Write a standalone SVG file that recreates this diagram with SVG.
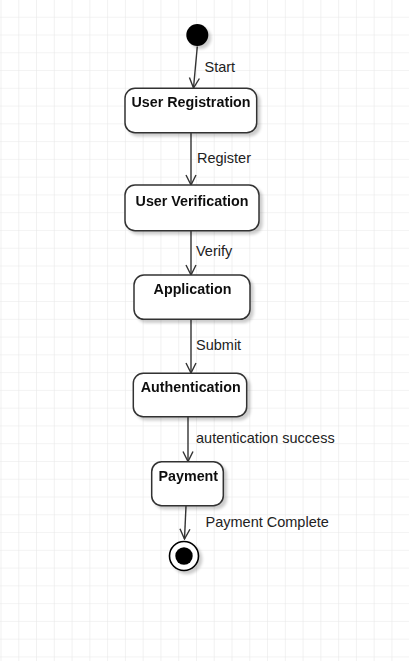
<svg xmlns="http://www.w3.org/2000/svg" width="409" height="661" viewBox="0 0 409 661">
  <defs>
    <pattern id="grid" patternUnits="userSpaceOnUse" x="0.5" y="-1.05" width="17.77" height="17.77">
      <path d="M0 0 H17.77 M0 0 V17.77" fill="none" stroke="#e8e8e8" stroke-width="1.2"/>
    </pattern>
    <filter id="shadow" x="-10%" y="-10%" width="130%" height="140%">
      <feGaussianBlur in="SourceAlpha" stdDeviation="1.5"/>
      <feOffset dx="3" dy="3" result="b"/>
      <feComponentTransfer><feFuncA type="linear" slope="0.2"/></feComponentTransfer>
      <feMerge><feMergeNode/><feMergeNode in="SourceGraphic"/></feMerge>
    </filter>
    <marker id="arrow" viewBox="0 0 12 12" refX="11" refY="6" markerWidth="12" markerHeight="12" markerUnits="userSpaceOnUse" orient="auto">
      <path d="M1 1 L11 6 L1 11" fill="none" stroke="#333" stroke-width="1.4"/>
    </marker>
  </defs>
  <style>
    .box { fill: #ffffff; stroke: #333333; stroke-width: 1.5; }
    .title { font-family: "Liberation Sans", Arial, sans-serif; font-weight: bold; font-size: 14.3px; fill: #111; text-anchor: middle; }
    .lbl { font-family: "Liberation Sans", Arial, sans-serif; font-size: 14.5px; fill: #222; }
    .edge { fill: none; stroke: #333333; stroke-width: 1.4; marker-end: url(#arrow); }
  </style>
  <rect width="409" height="661" fill="#ffffff"/>
  <rect width="409" height="661" fill="url(#grid)"/>

  <g id="connectors">
    <path class="edge" d="M197.3 46.5 L193.5 88"/>
    <path class="edge" d="M191 133 L191 185"/>
    <path class="edge" d="M191 231 L191 275"/>
    <path class="edge" d="M191 319.5 L191 373"/>
    <path class="edge" d="M188 417 L188 461.5"/>
    <path class="edge" d="M186 506 L184.5 539"/>
    <text class="lbl" x="204.5" y="72">Start</text>
    <text class="lbl" x="197" y="163">Register</text>
    <text class="lbl" x="196" y="256">Verify</text>
    <text class="lbl" x="196" y="350">Submit</text>
    <text class="lbl" x="196" y="443">autentication success</text>
    <text class="lbl" x="205.5" y="526.5">Payment Complete</text>
  </g>

  <g id="start" filter="url(#shadow)">
    <circle cx="197.3" cy="35" r="11" fill="#000000"/>
  </g>

  <g id="user-registration" filter="url(#shadow)">
    <rect class="box" x="125" y="88.3" width="131.7" height="44.4" rx="10" ry="10"/>
    <text class="title" x="191" y="107.3">User Registration</text>
  </g>

  <g id="user-verification" filter="url(#shadow)">
    <rect class="box" x="125" y="185" width="134" height="45.7" rx="10" ry="10"/>
    <text class="title" x="192" y="205.7">User Verification</text>
  </g>

  <g id="application" filter="url(#shadow)">
    <rect class="box" x="134" y="275" width="116" height="44.3" rx="10" ry="10"/>
    <text class="title" x="192.5" y="294.3">Application</text>
  </g>

  <g id="authentication" filter="url(#shadow)">
    <rect class="box" x="133.3" y="373.3" width="113.4" height="43.4" rx="10" ry="10"/>
    <text class="title" x="190.7" y="391.7">Authentication</text>
  </g>

  <g id="payment" filter="url(#shadow)">
    <rect class="box" x="151.7" y="461.7" width="71.6" height="44" rx="10" ry="10"/>
    <text class="title" x="188.3" y="480.7">Payment</text>
  </g>

  <g id="end" filter="url(#shadow)">
    <circle cx="184" cy="556" r="14.5" fill="#ffffff" stroke="#000000" stroke-width="1.6"/>
    <circle cx="184" cy="556" r="8.7" fill="#000000"/>
  </g>
</svg>
